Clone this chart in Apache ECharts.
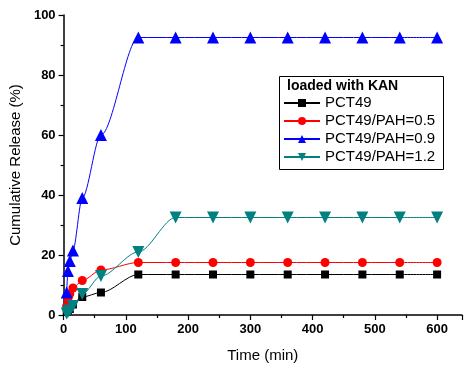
<!DOCTYPE html>
<html>
<head>
<meta charset="utf-8">
<script src="https://cdn.jsdelivr.net/npm/echarts@6/dist/echarts.min.js"></script>
<style>
  html, body { margin: 0; padding: 0; background: #fff; }
  #chart { width: 465px; height: 371px; }
</style>
</head>
<body>
<div id="chart"></div>
<script>
// time points (min)
var times = [5, 7, 10, 15, 30, 60, 120, 180, 240, 300, 360, 420, 480, 540, 600];
// cumulative release (%)
var pct49 = [1, 1.5, 2, 3.5, 6, 7.5, 13.5, 13.5, 13.5, 13.5, 13.5, 13.5, 13.5, 13.5, 13.5];
var pah05 = [3, 5.5, 7, 9, 11.5, 15, 17.5, 17.5, 17.5, 17.5, 17.5, 17.5, 17.5, 17.5, 17.5];
var pah09 = [7.5, 14.7, 18, 21.5, 39, 60, 92.5, 92.5, 92.5, 92.5, 92.5, 92.5, 92.5, 92.5, 92.5];
var pah12 = [0.5, 1, 1.5, 3, 7, 13, 21, 32.5, 32.5, 32.5, 32.5, 32.5, 32.5, 32.5, 32.5];
var names = ['PCT49', 'PCT49/PAH=0.5', 'PCT49/PAH=0.9', 'PCT49/PAH=1.2'];

function pairs(ys) {
  return times.map(function (t, i) { return [t, ys[i]]; });
}

var chart = echarts.init(document.getElementById('chart'));
var font = 'Liberation Sans, Arial, sans-serif';

function mk(name, ys, color, symbol, size, rot) {
  return {
    name: name,
    type: 'line',
    data: pairs(ys),
    smooth: 0.3,
    smoothMonotone: 'x',
    symbol: symbol,
    symbolSize: size,
    symbolRotate: rot || 0,
    lineStyle: { color: color, width: 1 },
    itemStyle: { color: color },
    z: 3
  };
}

var axisCommon = {
  axisLine: { show: true, lineStyle: { color: '#000', width: 1.5 } },
  axisTick: { show: true, length: 5, lineStyle: { color: '#000', width: 1.2 } },
  minorTick: { show: true, splitNumber: 2, length: 3, lineStyle: { color: '#000', width: 1.2 } },
  splitLine: { show: false }
};

var option = {
  animation: false,
  textStyle: { fontFamily: font },
  grid: { left: 63, right: 3, top: 15, bottom: 56 },
  xAxis: Object.assign({
    type: 'value',
    min: 0, max: 640, interval: 100,
    name: 'Time (min)',
    nameLocation: 'middle',
    nameGap: 33,
    nameTextStyle: { fontSize: 15, color: '#000', fontFamily: font },
    axisLabel: {
      color: '#000', fontSize: 13, fontWeight: 'bold', margin: 8, fontFamily: font,
      formatter: function (v) { return v <= 600 ? v : ''; }
    }
  }, axisCommon),
  yAxis: Object.assign({
    type: 'value',
    min: 0, max: 100, interval: 20,
    name: 'Cumulative Release (%)',
    nameLocation: 'middle',
    nameGap: 38,
    nameTextStyle: { fontSize: 15, color: '#000', fontFamily: font },
    axisLabel: { color: '#000', fontSize: 13, fontWeight: 'bold', margin: 8, fontFamily: font }
  }, axisCommon),
  legend: {
    data: names,
    orient: 'vertical',
    left: 283, top: 94,
    padding: 0,
    itemGap: 0,
    itemWidth: 36, itemHeight: 10,
    textStyle: { fontSize: 15, lineHeight: 18, color: '#000', fontFamily: font }
  },
  graphic: [
    {
      type: 'rect',
      shape: { x: 279.5, y: 76.5, width: 164, height: 93 },
      style: { fill: '#fff', stroke: '#000', lineWidth: 1 },
      z: 1
    },
    {
      type: 'text',
      left: 287, top: 79,
      style: { text: 'loaded with KAN', font: 'bold 14px ' + font, fill: '#000' },
      z: 2
    }
  ],
  series: [
    mk(names[0], pct49, '#000000', 'rect', 8),
    mk(names[1], pah05, '#ff0000', 'circle', 9),
    mk(names[2], pah09, '#0000ff', 'triangle', 12),
    mk(names[3], pah12, '#008080', 'triangle', 12, 180)
  ]
};
chart.setOption(option);
</script>
</body>
</html>
